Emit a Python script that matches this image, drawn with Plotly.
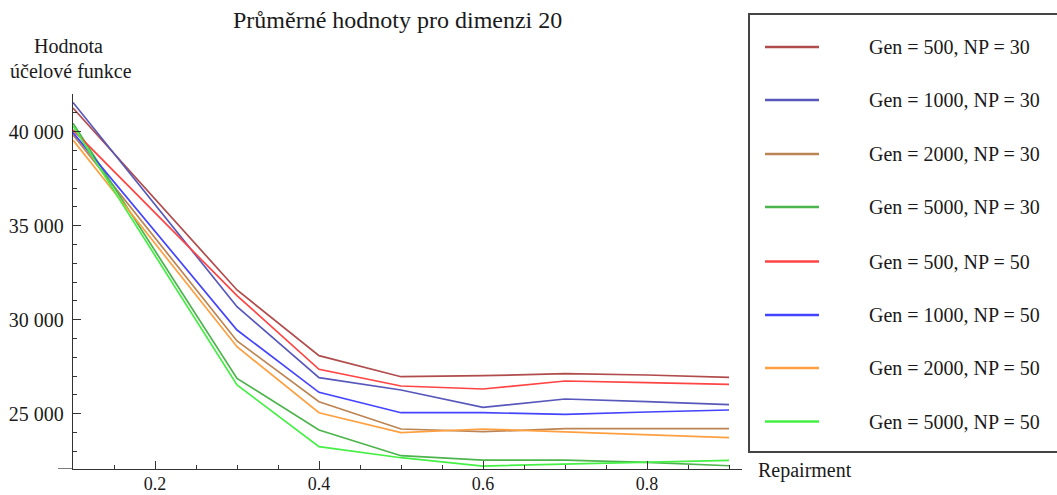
import plotly.graph_objects as go

# Repairment parameter values
repairment = [0.1, 0.3, 0.4, 0.5, 0.6, 0.7, 0.8, 0.9]

# Mean objective value for each Gen / NP setting
gen500_np30 = [41250, 31580, 28085, 26968, 27021, 27128, 27059, 26936]
gen1000_np30 = [41550, 30690, 26915, 26261, 25340, 25782, 25638, 25479]
gen2000_np30 = [39830, 28870, 25638, 24186, 24043, 24202, 24202, 24202]
gen5000_np30 = [40450, 26880, 24133, 22766, 22537, 22537, 22415, 22234]
gen500_np50 = [40090, 31280, 27362, 26473, 26314, 26739, 26649, 26564]
gen1000_np50 = [39950, 29450, 26138, 25053, 25053, 24968, 25090, 25197]
gen2000_np50 = [39550, 28560, 25053, 23990, 24186, 24027, 23867, 23723]
gen5000_np50 = [40300, 26530, 23245, 22660, 22218, 22324, 22415, 22521]

series_names = [
    "Gen = 500, NP = 30",
    "Gen = 1000, NP = 30",
    "Gen = 2000, NP = 30",
    "Gen = 5000, NP = 30",
    "Gen = 500, NP = 50",
    "Gen = 1000, NP = 50",
    "Gen = 2000, NP = 50",
    "Gen = 5000, NP = 50",
]
series_values = [
    gen500_np30, gen1000_np30, gen2000_np30, gen5000_np30,
    gen500_np50, gen1000_np50, gen2000_np50, gen5000_np50,
]
series_colors = [
    "#b04c4c", "#5858bc", "#bc8452", "#4cb44c",
    "#ff4444", "#4444ff", "#ffa040", "#44f044",
]

y_tick_values = [25000, 30000, 35000, 40000]
y_tick_labels = ["25 000", "30 000", "35 000", "40 000"]

# pixel geometry of the plotting area
W, H = 1057, 495
X0, X1 = 73, 742        # left / right pixel of the axes box
Y0, Y1 = 94, 469        # top / bottom pixel of the axes box
PX_PER_UNIT = 820.0
x_range = [0.1, 0.1 + (X1 - X0) / PX_PER_UNIT]
y_range = [22060, 42000]


def paper(px, py):
    return (px - X0) / (X1 - X0), (Y1 - py) / (Y1 - Y0)


FONT = "Liberation Serif, Times New Roman, serif"
FS = 20
AXIS = "#333333"
TEXT = "#1a1a1a"

fig = go.Figure()
for name, vals, col in zip(series_names, series_values, series_colors):
    fig.add_trace(go.Scatter(
        x=repairment, y=vals, mode="lines", name=name,
        line=dict(color=col, width=1.7), showlegend=False,
        hoverinfo="x+y+name",
    ))

shapes = []
annotations = []

# short extension of the horizontal axis to the left of the vertical one
ex0, _ = paper(58, Y1)
shapes.append(dict(type="line", xref="paper", yref="y", x0=ex0, x1=0,
                   y0=y_range[0], y1=y_range[0],
                   line=dict(color=AXIS, width=1.3)))

# legend frame
lx0, ly0 = paper(749, 14)
lx1, ly1 = paper(1062, 452)
shapes.append(dict(type="rect", xref="paper", yref="paper",
                   x0=lx0, x1=lx1, y0=ly1, y1=ly0,
                   line=dict(color="#444444", width=2), fillcolor="white",
                   layer="below"))

row_y = [47, 100, 154, 207, 261.5, 315, 368, 421.5]
for name, col, ry in zip(series_names, series_colors, row_y):
    sx0, sy = paper(765, ry)
    sx1, _ = paper(819, ry)
    shapes.append(dict(type="line", xref="paper", yref="paper",
                       x0=sx0, x1=sx1, y0=sy, y1=sy,
                       line=dict(color=col, width=2.6)))
    tx, ty = paper(867, ry)
    annotations.append(dict(xref="paper", yref="paper", x=tx, y=ty,
                            text=name, showarrow=False, xanchor="left",
                            yanchor="middle",
                            font=dict(family=FONT, size=FS, color=TEXT)))

# title
tx, ty = paper(397, 20)
annotations.append(dict(xref="paper", yref="paper", x=tx, y=ty,
                        text="Průměrné hodnoty pro dimenzi 20",
                        showarrow=False, xanchor="center", yanchor="middle",
                        font=dict(family=FONT, size=24, color=TEXT)))

# axis labels
tx, ty = paper(68, 46.5)
annotations.append(dict(xref="paper", yref="paper", x=tx, y=ty,
                        text="Hodnota", showarrow=False,
                        xanchor="center", yanchor="middle",
                        font=dict(family=FONT, size=FS, color=TEXT)))
tx, ty = paper(71, 71.5)
annotations.append(dict(xref="paper", yref="paper", x=tx, y=ty,
                        text="účelové funkce", showarrow=False,
                        xanchor="center", yanchor="middle",
                        font=dict(family=FONT, size=FS, color=TEXT)))
tx, ty = paper(756, 470)
annotations.append(dict(xref="paper", yref="paper", x=tx, y=ty,
                        text="Repairment", showarrow=False,
                        xanchor="left", yanchor="middle",
                        font=dict(family=FONT, size=FS, color=TEXT)))

fig.update_layout(
    width=W, height=H,
    margin=dict(l=X0, r=W - X1, t=Y0, b=H - Y1),
    paper_bgcolor="white", plot_bgcolor="white",
    font=dict(family=FONT, size=FS, color=TEXT),
    shapes=shapes, annotations=annotations,
    xaxis=dict(
        range=x_range, showgrid=False, zeroline=False, automargin=False,
        showline=True, linecolor=AXIS, linewidth=1.3,
        tickmode="linear", tick0=0.2, dtick=0.2,
        ticks="inside", ticklen=8, tickwidth=1.3, tickcolor=AXIS,
        minor=dict(tickmode="linear", tick0=0.0, dtick=0.05,
                   ticks="inside", ticklen=4, tickwidth=1.1,
                   tickcolor=AXIS, showgrid=False),
        tickformat=".1f", ticklabelstandoff=-2,
        tickfont=dict(family=FONT, size=18, color=TEXT),
    ),
    yaxis=dict(
        range=y_range, showgrid=False, zeroline=False, automargin=False,
        showline=True, linecolor=AXIS, linewidth=1.3,
        tickmode="array", tickvals=y_tick_values, ticktext=y_tick_labels,
        ticks="inside", ticklen=8, tickwidth=1.3, tickcolor=AXIS,
        minor=dict(tickmode="linear", tick0=0, dtick=1000,
                   ticks="inside", ticklen=4, tickwidth=1.1,
                   tickcolor=AXIS, showgrid=False),
        ticklabelstandoff=4,
        tickfont=dict(family=FONT, size=FS, color=TEXT),
    ),
)

fig.write_html("out.html")
